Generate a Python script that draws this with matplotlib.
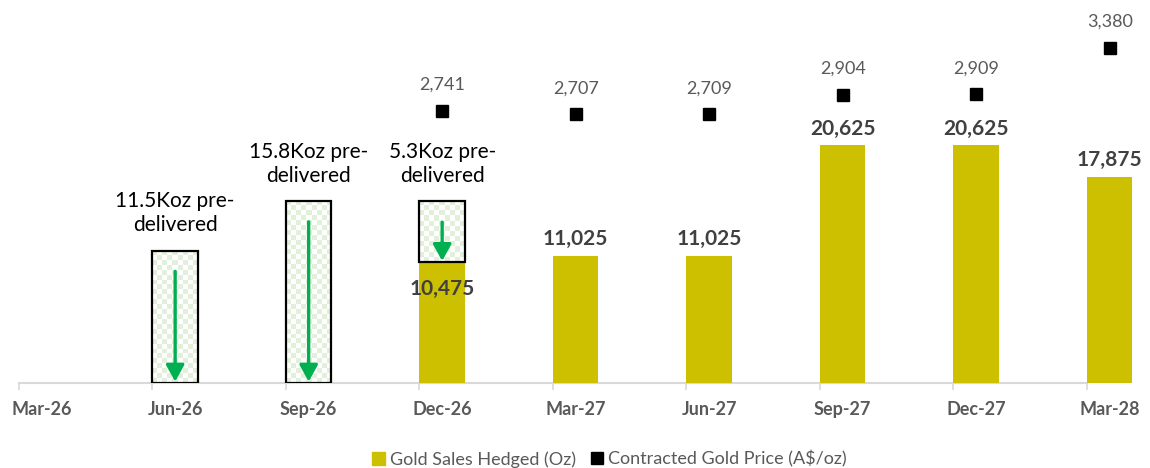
import numpy as np
import matplotlib.pyplot as plt
from matplotlib.patches import FancyArrowPatch, Patch
from matplotlib.lines import Line2D

plt.rcParams['font.family'] = ['Lato', 'DejaVu Sans']

# data
quarters = ['Mar-26', 'Jun-26', 'Sep-26', 'Dec-26', 'Mar-27', 'Jun-27', 'Sep-27', 'Dec-27', 'Mar-28']
hedged_oz = [0, 0, 0, 10475, 11025, 11025, 20625, 20625, 17875]
price = [np.nan, np.nan, np.nan, 2741, 2707, 2709, 2904, 2909, 3380]
pre_idx = [1, 2, 3]
pre_oz = [11500, 15800, 5300]
pre_text = ['11.5Koz pre-\ndelivered', '15.8Koz pre-\ndelivered', '5.3Koz pre-\ndelivered']

BAR = '#CCC000'
GREEN = '#00B050'
CHECK = '#E2EFDA'
W = 0.34

fig = plt.figure(figsize=(11.5, 4.68), dpi=100)
ax = fig.add_axes([0, 0.1816, 1, 0.8184])
ax2 = ax.twinx()

x = np.arange(len(quarters))
xlim = (-0.312, 8.302)

# bars (left edge on the boundary tick)
ax.bar(x - W / 2, hedged_oz, width=W, align='edge', color=BAR, zorder=2)
for xi, v in zip(x, hedged_oz):
    if v == 0:
        continue
    if xi in pre_idx:
        ax.annotate(f'{v:,}', (xi, v), xytext=(0, -12), textcoords='offset points',
                    ha='center', va='top', fontsize=15, fontweight='bold', color='#404040', zorder=5)
    else:
        ax.annotate(f'{v:,}', (xi, v), xytext=(0, 5), textcoords='offset points',
                    ha='center', va='bottom', fontsize=15, fontweight='bold', color='#404040', zorder=5)

# pre-delivered boxes with checker fill and arrows
for i, v, t in zip(pre_idx, pre_oz, pre_text):
    base = hedged_oz[i]
    top = base + v
    rows = max(2, int(round(v / 430)))
    cols = 9
    chk = (np.add.outer(np.arange(rows), np.arange(cols)) % 2).astype(float)
    ax.imshow(chk, extent=(i - W / 2, i + W / 2, base, top), cmap=plt.matplotlib.colors.ListedColormap([CHECK, 'white']),
              aspect='auto', interpolation='nearest', zorder=2)
    ax.add_patch(plt.Rectangle((i - W / 2, base), W, v, fill=False, edgecolor='black', lw=1.6, zorder=3))
    ax.add_patch(FancyArrowPatch((i, top), (i, base), arrowstyle='-|>,head_length=1.0,head_width=0.55',
                                 mutation_scale=10, color=GREEN, lw=2.4, shrinkA=15, shrinkB=1, zorder=4))
    ax.annotate(t, (i, top), xytext=(0, 11), textcoords='offset points', ha='center', va='bottom',
                fontsize=15, color='black', linespacing=1.25, zorder=5)

# contracted price markers
ax2.plot(x, price, 's', color='black', markersize=9, zorder=5)
for xi, p in zip(x, price):
    if np.isnan(p):
        continue
    ax2.annotate(f'{int(p):,}', (xi, p), xytext=(0, 13), textcoords='offset points',
                 ha='center', va='bottom', fontsize=13, color='#595959')

ax.set_xlim(*xlim)
ax.set_ylim(0, 33250)
ax2.set_ylim(0, 3860)

for a in (ax, ax2):
    for s in a.spines.values():
        s.set_visible(False)
    a.set_yticks([])
ax.set_xticks(x)
ax.set_xticklabels(quarters, fontsize=13, fontweight='bold', color='#595959')
ax.tick_params(axis='x', length=0, pad=13)
ax.set_xticks(x - W / 2, minor=True)
ax.tick_params(axis='x', which='minor', length=5, color='#D9D9D9', width=1.2)
ax.plot([x[0] - W / 2, x[-1] - W / 2], [0, 0], color='#D9D9D9', lw=1.5, zorder=1, clip_on=False)

handles = [Patch(color=BAR, label='Gold Sales Hedged (Oz)'),
           Line2D([], [], marker='s', ls='', color='black', markersize=8, label='Contracted Gold Price (A$/oz)')]
fig.legend(handles=handles, loc='center', bbox_to_anchor=(0.53, 0.019), ncol=2, frameon=False,
           fontsize=13, labelcolor='#595959', handlelength=0.7, handleheight=0.7, handletextpad=0.3,
           columnspacing=0.8)

fig.savefig('out.png', dpi=100)
